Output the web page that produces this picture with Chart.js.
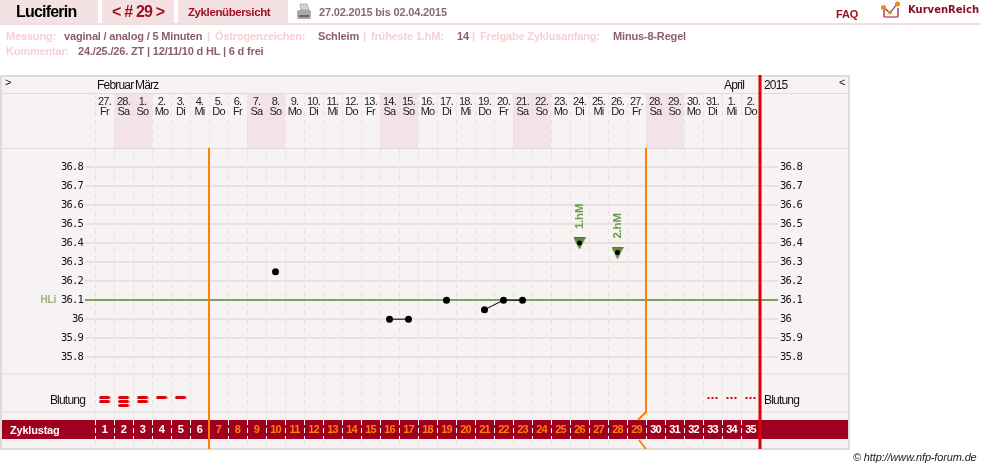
<!DOCTYPE html>
<html lang="de">
<head>
<meta charset="utf-8">
<title>Luciferin</title>
<script src="https://cdn.jsdelivr.net/npm/chart.js@4"></script>
<style>
    html, body { margin: 0; padding: 0; background: #fff; overflow: hidden; }
    body { width: 981px; height: 469px; position: relative; font-family: "Liberation Sans", Arial, sans-serif; }
    canvas { position: absolute; left: 0; top: 0; }
    .t { position: absolute; white-space: nowrap; font-weight: bold; font-size: 11px; line-height: 14px; letter-spacing: -0.17px; }
    .tab { position: absolute; top: 0; height: 23px; background: #f3e1e3; }
    .lab { color: #f6d0d3; }
    .val { color: #8c5f65; }
    .dark { color: #a01020; }
</style>
</head>
<body>
<canvas id="chart" width="981" height="469"></canvas>

<div class="tab" style="left:0;width:98px"></div>
<div class="tab" style="left:102px;width:72px"></div>
<div class="tab" style="left:178px;width:110px"></div>
<div style="position:absolute;left:0;top:23px;width:981px;height:2px;background:#f3dcdf"></div>

<span class="t" style="left:16px;top:5px;font-size:16px;letter-spacing:-0.8px;color:#000">Luciferin</span>
<span class="t dark" style="left:112px;top:5px;font-size:16px;letter-spacing:-0.8px">&lt; # 29 &gt;</span>
<span class="t dark" style="left:188px;top:5px;font-size:11.5px;letter-spacing:-0.4px">Zyklenübersicht</span>
<svg style="position:absolute;left:296px;top:3px" width="17" height="17" viewBox="0 0 17 17">
    <path d="M4 1h7l2 6H5z" fill="#c9d6de" stroke="#8a9aa5" stroke-width=".7"/>
    <path d="M1 9q0-2 2-2h10q2 0 2 2v5q0 2-2 2H3q-2 0-2-2z" fill="#a8a8a8"/>
    <rect x="3" y="12" width="10" height="2" fill="#666"/>
</svg>
<span class="t" style="left:319px;top:5px;color:#8a6a6e">27.02.2015 bis 02.04.2015</span>
<span class="t dark" style="left:836px;top:7px">FAQ</span>
<svg style="position:absolute;left:880px;top:1px" width="24" height="18" viewBox="0 0 24 18">
    <path d="M4 7v8q0 1 1 1h12q1 0 1-1V7" fill="none" stroke="#a01030" stroke-width="1.2"/>
    <path d="M3 6l7 6 7-9" fill="none" stroke="#a01030" stroke-width="1.2"/>
    <circle cx="3.5" cy="6.5" r="2.5" fill="#f08a10"/>
    <circle cx="10" cy="11.5" r="2" fill="#f08a10"/>
    <circle cx="17.5" cy="3" r="2.5" fill="#f08a10"/>
</svg>
<span class="t" style="left:908px;top:3px;font:bold 10px 'DejaVu Sans';line-height:14px;letter-spacing:0;color:#8a0c28">KurvenReich</span>

<span class="t lab" style="left:6px;top:29px">Messung:</span>
<span class="t val" style="left:64px;top:29px">vaginal / analog / 5 Minuten</span>
<span class="t lab" style="left:207px;top:29px">|</span>
<span class="t lab" style="left:215px;top:29px">Östrogenzeichen:</span>
<span class="t val" style="left:318px;top:29px">Schleim</span>
<span class="t lab" style="left:363px;top:29px">|</span>
<span class="t lab" style="left:371px;top:29px">früheste 1.hM:</span>
<span class="t val" style="left:457px;top:29px">14</span>
<span class="t lab" style="left:472px;top:29px">|</span>
<span class="t lab" style="left:480px;top:29px">Freigabe Zyklusanfang:</span>
<span class="t val" style="left:613px;top:29px">Minus-8-Regel</span>
<span class="t lab" style="left:6px;top:44px">Kommentar:</span>
<span class="t val" style="left:78px;top:44px">24./25./26. ZT | 12/11/10 d HL | 6 d frei</span>

<span style="position:absolute;left:853px;top:451px;font:italic 11px 'Liberation Sans';letter-spacing:-0.15px;color:#222;white-space:nowrap">© http://www.nfp-forum.de</span>

<script>
// Daten aus dem Zyklusblatt
const datumTage = ['27.','28.','1.','2.','3.','4.','5.','6.','7.','8.','9.','10.','11.','12.','13.','14.','15.','16.','17.','18.','19.','20.','21.','22.','23.','24.','25.','26.','27.','28.','29.','30.','31.','1.','2.'];
const wochentage = ['Fr','Sa','So','Mo','Di','Mi','Do','Fr','Sa','So','Mo','Di','Mi','Do','Fr','Sa','So','Mo','Di','Mi','Do','Fr','Sa','So','Mo','Di','Mi','Do','Fr','Sa','So','Mo','Di','Mi','Do'];
const zyklustage = ['1','2','3','4','5','6','7','8','9','10','11','12','13','14','15','16','17','18','19','20','21','22','23','24','25','26','27','28','29','30','31','32','33','34','35'];
const temperaturTicks = [36.8,36.7,36.6,36.5,36.4,36.3,36.2,36.1,36,35.9,35.8];
const temperatur = [null,null,null,null,null,null,null,null,null,36.25,null,null,null,null,null,36,36,null,36.1,null,36.05,36.1,36.1,null,null,null,null,null,null,null,null,null,null,null,null];
const hochlage = 36.1;
// Höchstwert-Markierungen: Zyklustag (Index) und Wert
const hmTage = [25, 27];
const hmWerte = [36.4, 36.35];
const hmNamen = ['1.hM', '2.hM'];
// Anzahl Striche pro Tag, danach die Schmierblutung
const blutung = [2,3,2,1,1,0,0,0,0,0,0,0,0,0,0,0,0,0,0,0,0,0,0,0,0,0,0,0,0,0,0,0,0,0,0];
const schmier = [0,0,0,0,0,0,0,0,0,0,0,0,0,0,0,0,0,0,0,0,0,0,0,0,0,0,0,0,0,0,0,0,1,1,1];
const monate = ['Februar','März','April'];
const monatStart = [0, 2, 33];
// Spalten nach denen die orange Linie steht
const linieNach = [5, 28];

const ROT = '#e00008';
const GRID = '#e6e2e2';
const GRUEN = '#7f9f5f';
const BAND = '#a00020';
const ORANGE = '#ff8000';

function bild(w, h, zeichne) {
    const c = document.createElement('canvas');
    c.width = w; c.height = h;
    zeichne(c.getContext('2d'));
    return c;
}

const strich = bild(12, 3, g => {
    g.fillStyle = ROT;
    g.beginPath();
    g.roundRect(0.5, 0, 11, 3, 1.5);
    g.fill();
});
const punkte = bild(12, 2, g => {
    g.fillStyle = '#d00010';
    [1, 5, 9].forEach(x => g.fillRect(x, 0, 2, 2));
});
const dreieck = bild(12, 12, g => {
    g.fillStyle = '#5f8f32';
    g.strokeStyle = '#4c7526';
    g.beginPath();
    g.moveTo(0.5, 0.5); g.lineTo(11.5, 0.5); g.lineTo(6, 11.5); g.closePath();
    g.fill(); g.stroke();
});

// Hintergrund, Kopfzeilen und Band werden um die Skalen herum gezeichnet
const rahmen = {
    id: 'rahmen',
    beforeDraw(chart) {
        const ctx = chart.ctx, x = chart.scales.x;
        const halb = (x.getPixelForValue(1) - x.getPixelForValue(0)) / 2;
        ctx.save();
        ctx.fillStyle = '#f8f3f3';
        ctx.fillRect(0, 75, 849, 374);
        ctx.fillStyle = '#f3e3e6';
        wochentage.forEach((w, i) => {
            if (w === 'Sa' || w === 'So') ctx.fillRect(x.getPixelForValue(i) - halb, 93, halb * 2, 55);
        });
        ctx.fillStyle = BAND;
        ctx.fillRect(1, 420, 848, 19);
        ctx.strokeStyle = '#dcdcdc';
        ctx.lineWidth = 1;
        [93.5, 148.5, 374, 412].forEach(y => {
            ctx.beginPath(); ctx.moveTo(0, y); ctx.lineTo(849, y); ctx.stroke();
        });
        ctx.lineWidth = 2;
        ctx.strokeRect(1, 76, 848, 373);
        ctx.restore();
        // die Skalen zeichnen ihre Texte ohne eigene Laufweite
        ctx.letterSpacing = '-0.8px';
    },
    afterDatasetsDraw(chart) {
        const ctx = chart.ctx, x = chart.scales.x, y = chart.scales.y;
        const halb = (x.getPixelForValue(1) - x.getPixelForValue(0)) / 2;
        ctx.save();
        // Restliche Striche unter dem Band
        ctx.strokeStyle = GRID;
        ctx.setLineDash([5, 4]);
        zyklustage.forEach((_, i) => {
            const px = Math.round(x.getPixelForValue(i) - halb) + 0.5;
            ctx.beginPath(); ctx.moveTo(px, 440); ctx.lineTo(px, 449); ctx.stroke();
        });
        ctx.setLineDash([]);

        // Orange Linien
        ctx.strokeStyle = ORANGE;
        ctx.lineWidth = 2;
        const l1 = x.getPixelForValue(linieNach[0]) + halb;
        ctx.beginPath(); ctx.moveTo(l1, 148); ctx.lineTo(l1, 449); ctx.stroke();
        const l2 = x.getPixelForValue(linieNach[1]) + halb;
        ctx.beginPath(); ctx.moveTo(l2, 148); ctx.lineTo(l2, 412); ctx.lineTo(l2 - 8, 420); ctx.stroke();
        ctx.beginPath(); ctx.moveTo(l2 - 7, 440); ctx.lineTo(l2, 449); ctx.stroke();

        // Roter Balken am Ende
        ctx.strokeStyle = ROT;
        ctx.lineWidth = 3;
        ctx.beginPath(); ctx.moveTo(x.right, 75); ctx.lineTo(x.right, 449); ctx.stroke();

        // Kopfzeile
        ctx.fillStyle = '#111';
        ctx.textBaseline = 'middle';
        ctx.font = "12px 'Liberation Sans'";
        monate.forEach((m, i) => {
            ctx.fillText(m, x.getPixelForValue(monatStart[i]) - halb + 2, 85.5);
        });
        ctx.fillText('2015', 764, 85.5);
        ctx.font = "11px 'Liberation Sans'";
        ctx.fillText('>', 5, 83);
        ctx.fillText('<', 839, 83);

        // Beschriftungen Blutung und Band
        ctx.font = "12px 'Liberation Sans'";
        ctx.textAlign = 'right';
        ctx.fillText('Blutung', 85, 401);
        ctx.textAlign = 'left';
        ctx.fillText('Blutung', 764, 401);
        ctx.letterSpacing = '-0.2px';
        ctx.font = "bold 11px 'Liberation Sans'";
        ctx.fillStyle = '#fff';
        ctx.fillText('Zyklustag', 10, 430.5);

        // HLi und hM-Beschriftung
        ctx.font = "bold 10px 'Liberation Sans'";
        ctx.fillStyle = '#9ab080';
        ctx.textAlign = 'right';
        ctx.fillText('HLi', 56, y.getPixelForValue(hochlage));
        ctx.font = "bold 11.5px 'Liberation Sans'";
        ctx.fillStyle = '#6f9a4b';
        ctx.textAlign = 'left';
        hmTage.forEach((tag, i) => {
            ctx.save();
            ctx.translate(x.getPixelForValue(tag), y.getPixelForValue(hmWerte[i]) - 14);
            ctx.rotate(-Math.PI / 2);
            ctx.fillText(hmNamen[i], 0, 0);
            ctx.restore();
        });
        ctx.restore();
    }
};

function blutReihe(reihe) {
    return {
        label: 'Blutung ' + reihe,
        data: blutung.map(n => n >= reihe ? reihe : null),
        yAxisID: 'yBlut',
        showLine: false,
        pointStyle: strich
    };
}

const linksTicks = axis => { axis.ticks = temperaturTicks.map(v => ({ value: v })); };
const temperaturGrid = {
    color: c => c.tick && c.tick.value === hochlage ? GRUEN : GRID,
    lineWidth: 2,
    tickLength: 10
};

new Chart(document.getElementById('chart'), {
    type: 'line',
    data: {
        labels: zyklustage,
        datasets: [
            {
                label: 'Temperatur',
                data: temperatur,
                spanGaps: false,
                borderColor: '#000',
                borderWidth: 1,
                tension: 0,
                pointRadius: 3.5,
                pointBackgroundColor: '#000',
                pointBorderColor: '#000',
                pointBorderWidth: 0
            },
            {
                label: 'hM Wert',
                data: temperatur.map((_, i) => hmTage.includes(i) ? hmWerte[hmTage.indexOf(i)] : null),
                showLine: false,
                pointRadius: 2.5,
                pointBackgroundColor: '#000',
                pointBorderColor: '#000',
                pointBorderWidth: 0
            },
            {
                label: 'hM',
                data: temperatur.map((_, i) => hmTage.includes(i) ? hmWerte[hmTage.indexOf(i)] : null),
                showLine: false,
                pointStyle: dreieck
            },
            blutReihe(1),
            blutReihe(2),
            blutReihe(3),
            {
                label: 'Schmierblutung',
                data: schmier.map(n => n ? 1 : null),
                yAxisID: 'yBlut',
                showLine: false,
                pointStyle: punkte
            }
        ]
    },
    plugins: [rahmen],
    options: {
        responsive: false,
        animation: false,
        events: [],
        layout: { padding: { top: 93, bottom: 30, left: 0, right: 0 } },
        plugins: { legend: { display: false }, title: { display: false }, tooltip: { enabled: false } },
        scales: {
            x: {
                type: 'category',
                position: 'top',
                labels: datumTage.map((d, i) => [d, wochentage[i]]),
                offset: true,
                afterFit: axis => { axis.height = 55; },
                border: { display: false, dash: [5, 4] },
                grid: {
                    offset: true,
                    color: GRID,
                    lineWidth: 1,
                    tickBorderDash: [5, 4],
                    tickLength: 55
                },
                ticks: {
                    autoSkip: false,
                    maxRotation: 0,
                    padding: -24,
                    color: '#222',
                    font: { family: "'Liberation Sans'", size: 11, lineHeight: 0.91 }
                }
            },
            xZyklus: {
                type: 'category',
                axis: 'x',
                position: 'bottom',
                labels: zyklustage,
                offset: true,
                afterFit: axis => { axis.height = 19; },
                border: { display: false },
                grid: {
                    offset: true,
                    drawOnChartArea: false,
                    color: '#fff',
                    lineWidth: 1,
                    tickBorderDash: [5, 3],
                    tickLength: 19
                },
                ticks: {
                    autoSkip: false,
                    maxRotation: 0,
                    padding: -16,
                    color: c => (c.index >= 6 && c.index <= 28) ? ORANGE : '#fff',
                    font: { family: "'Liberation Sans'", size: 11, weight: 'bold' }
                }
            },
            y: {
                position: 'left',
                min: 35.47,
                max: 36.9,
                afterFit: axis => { axis.width = 95; },
                afterBuildTicks: linksTicks,
                border: { display: false },
                grid: temperaturGrid,
                ticks: {
                    padding: 2,
                    color: '#111',
                    callback: v => String(v),
                    font: { family: "'DejaVu Sans Mono'", size: 10.5 }
                }
            },
            yRechts: {
                position: 'right',
                min: 35.47,
                max: 36.9,
                afterFit: axis => { axis.width = 221; },
                afterBuildTicks: linksTicks,
                border: { display: false },
                grid: Object.assign({}, temperaturGrid, { tickLength: 18, drawOnChartArea: false }),
                ticks: {
                    padding: 2,
                    color: '#111',
                    callback: v => String(v),
                    font: { family: "'DejaVu Sans Mono'", size: 10.5 }
                }
            },
            yBlut: {
                display: false,
                reverse: true,
                min: -61.4,
                max: 6.6
            }
        }
    }
});
</script>
</body>
</html>
